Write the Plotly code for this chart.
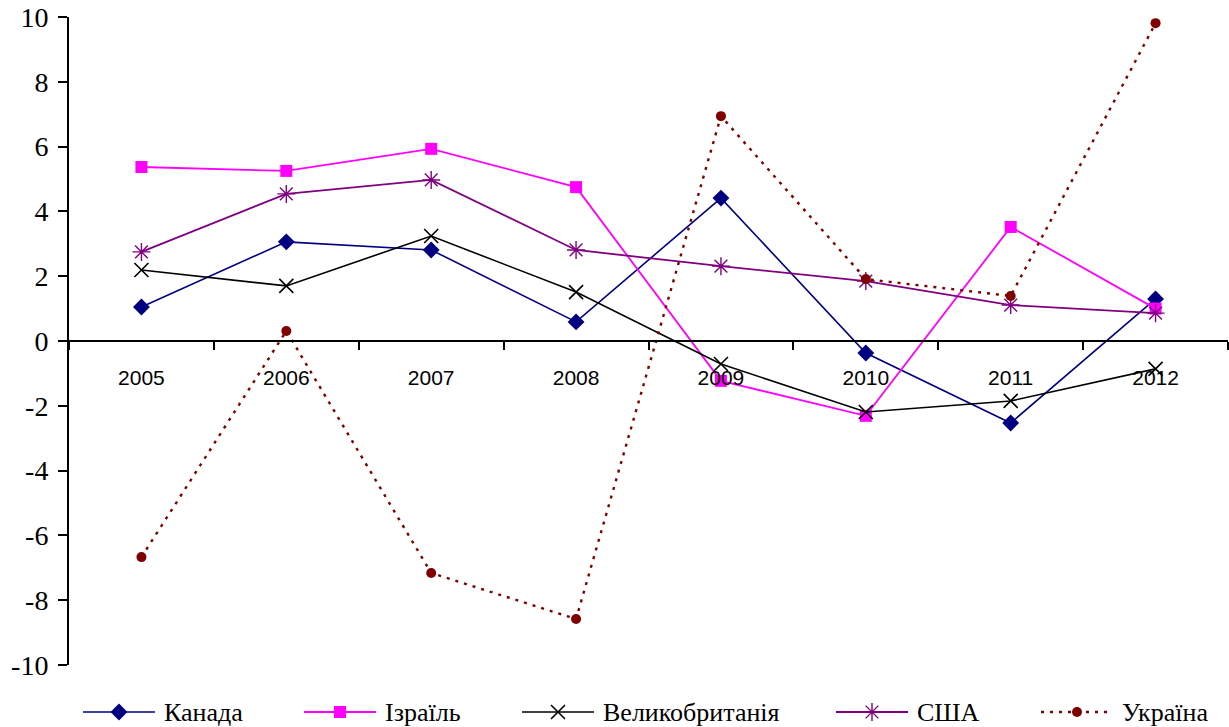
import plotly.graph_objects as go

years = ["2005", "2006", "2007", "2008", "2009", "2010", "2011", "2012"]

canada = [1.05, 3.06, 2.81, 0.59, 4.41, -0.37, -2.53, 1.30]
israel = [5.37, 5.25, 5.93, 4.75, -1.23, -2.31, 3.52, 1.00]
uk = [2.19, 1.70, 3.24, 1.51, -0.71, -2.19, -1.85, -0.86]
usa = [2.75, 4.54, 4.97, 2.81, 2.31, 1.85, 1.11, 0.86]
ukraine = [-6.67, 0.31, -7.16, -8.58, 6.94, 1.91, 1.39, 9.81]

y_ticks = [-10, -8, -6, -4, -2, 0, 2, 4, 6, 8, 10]

W, H = 1229, 727
M_L, M_R, M_T, M_B = 69, 1, 17, 5
plot_h = H - M_T - M_B
main_bottom = (H - M_B - 665) / plot_h
zero_pos = main_bottom + 0.5 * (1 - main_bottom)

serif = "Liberation Serif, Times New Roman, serif"

series = [
    dict(name="Канада", y=canada, color="#000080", symbol="diamond", size=13, lw=1.6, dash="solid", mlw=0),
    dict(name="Ізраїль", y=israel, color="#FF00FF", symbol="square", size=12, lw=1.8, dash="solid", mlw=0),
    dict(name="Великобританія", y=uk, color="#000000", symbol="x-thin", size=14, lw=1.6, dash="solid", mlw=1.6),
    dict(name="США", y=usa, color="#800080", symbol="asterisk", size=15, lw=1.8, dash="solid", mlw=1.4),
    dict(name="Україна", y=ukraine, color="#800000", symbol="circle", size=10, lw=2.4, dash="3px,6px", mlw=0),
]

fig = go.Figure()

for s in series:
    fig.add_trace(go.Scatter(
        x=years, y=s["y"], name=s["name"], mode="lines+markers",
        line=dict(color=s["color"], width=s["lw"], dash=s["dash"]),
        marker=dict(symbol=s["symbol"], size=s["size"], color=s["color"],
                    line=dict(color=s["color"], width=s["mlw"])),
        cliponaxis=False, showlegend=False,
    ))

# legend row drawn on a pixel-scaled helper axis below the plot
legend_x = [83, 304, 522, 836, 1041]
legend_len = 72
legend_gap = 7
legend_y = 712
for s, x0 in zip(series, legend_x):
    fig.add_trace(go.Scatter(
        x=[x0, x0 + legend_len], y=[legend_y, legend_y], mode="lines",
        line=dict(color=s["color"], width=s["lw"], dash=s["dash"]),
        xaxis="x2", yaxis="y2", showlegend=False, hoverinfo="skip", cliponaxis=False,
    ))
    fig.add_trace(go.Scatter(
        x=[x0 + legend_len / 2], y=[legend_y], mode="markers",
        marker=dict(symbol=s["symbol"], size=s["size"], color=s["color"],
                    line=dict(color=s["color"], width=s["mlw"])),
        xaxis="x2", yaxis="y2", showlegend=False, hoverinfo="skip", cliponaxis=False,
    ))
    fig.add_annotation(
        x=x0 + legend_len + legend_gap, y=legend_y, xref="x2", yref="y2",
        text=s["name"], showarrow=False, xanchor="left", yanchor="middle",
        font=dict(family=serif, size=26, color="black"),
    )

fig.update_layout(
    width=W, height=H,
    margin=dict(l=M_L, r=M_R, t=M_T, b=M_B, autoexpand=False),
    paper_bgcolor="white", plot_bgcolor="white",
    showlegend=False,
    xaxis=dict(
        type="category", range=[-0.5, len(years) - 0.5],
        anchor="free", position=zero_pos, automargin=False,
        showline=True, linecolor="black", linewidth=2,
        ticks="outside", tickson="boundaries", ticklen=8, tickwidth=1.5, tickcolor="black",
        showgrid=False, zeroline=False,
        tickfont=dict(family="Liberation Sans, Arial, sans-serif", size=21, color="black"),
        ticklabelstandoff=18,
    ),
    yaxis=dict(
        domain=[main_bottom, 1], range=[-10, 10], automargin=False,
        tickvals=y_ticks, ticktext=[str(v) for v in y_ticks],
        showline=True, linecolor="black", linewidth=2,
        ticks="outside", ticklen=9, tickwidth=1.5, tickcolor="black",
        showgrid=False, zeroline=False,
        tickfont=dict(family=serif, size=28, color="black"),
        ticklabelstandoff=4,
    ),
    xaxis2=dict(domain=[0, 1], range=[M_L, W - M_R], anchor="y2", visible=False),
    yaxis2=dict(domain=[0, main_bottom], range=[H - M_B, 665], anchor="x2", visible=False),
)

fig.write_html("out.html")
